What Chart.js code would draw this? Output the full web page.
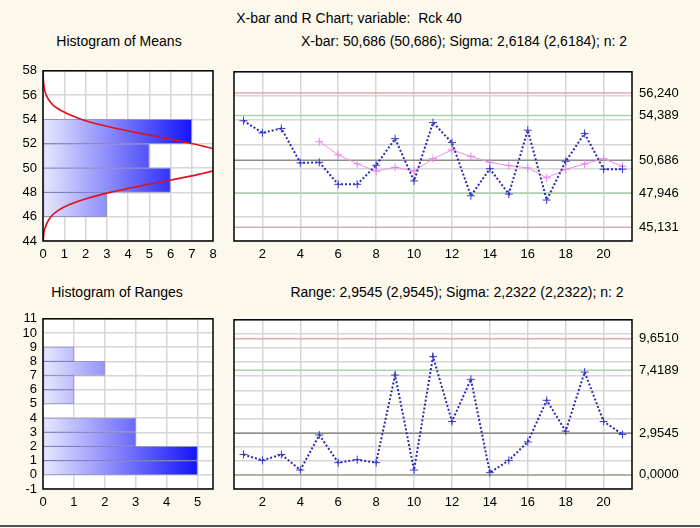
<!doctype html>
<html lang="en">
<head>
<meta charset="utf-8">
<title>X-bar and R Chart</title>
<script src="https://cdn.jsdelivr.net/npm/chart.js@4.4.0/dist/chart.umd.min.js"></script>
<style>
  body { margin: 0; background: #fdf8ec; font-family: 'Liberation Sans', Arial, sans-serif; }
  #page { position: relative; width: 700px; height: 528px; overflow: hidden; }
  .t { position: absolute; font-size: 14px; line-height: 16px; white-space: nowrap; transform: translateX(-50%); color: #000; }
  .box { position: absolute; }
  #rule { position: absolute; left: 0; top: 525px; width: 700px; height: 2px; background: #505050; }
</style>
</head>
<body>
<div id="page">
  <div class="t" style="left:349px;top:10px">X-bar and R Chart; variable:&nbsp; Rck 40</div>
  <div class="t" style="left:119px;top:33px">Histogram of Means</div>
  <div class="t" style="left:464px;top:33px">X-bar: 50,686 (50,686); Sigma: 2,6184 (2,6184); n: 2</div>
  <div class="t" style="left:117px;top:284px">Histogram of Ranges</div>
  <div class="t" style="left:457px;top:284px">Range: 2,9545 (2,9545); Sigma: 2,2322 (2,2322); n: 2</div>

  <div class="box" style="left:0;top:57px"><canvas id="histMeans" width="225" height="213"></canvas></div>
  <div class="box" style="left:225px;top:57px"><canvas id="xbar" width="475" height="213"></canvas></div>
  <div class="box" style="left:0;top:305px"><canvas id="histRanges" width="225" height="213"></canvas></div>
  <div class="box" style="left:225px;top:305px"><canvas id="rchart" width="475" height="213"></canvas></div>
  <div id="rule"></div>
</div>

<script>
// datos
var sampleNo = [1, 2, 3, 4, 5, 6, 7, 8, 9, 10, 11, 12, 13, 14, 15, 16, 17, 18, 19, 20, 21];
var sampleTicks = [2, 4, 6, 8, 10, 12, 14, 16, 18, 20];

var xbarValues = [53.95, 52.95, 53.31, 50.46, 50.51, 48.69, 48.69, 50.27, 52.47, 48.97, 53.80,
                  52.14, 47.74, 49.98, 47.88, 53.17, 47.39, 50.59, 52.90, 49.94, 49.94];
var xbarMovingAvg = [null, null, null, null, 52.22, 51.13, 50.38, 49.78, 50.10, 49.78, 50.81,
                     51.54, 51.00, 50.51, 50.24, 50.05, 49.23, 49.92, 50.38, 50.81, 50.18];
var xbarLimitValues = [56.240, 54.389, 50.686, 47.946, 45.131];
var xbarLimitLabels = ['56,240', '54,389', '50,686', '47,946', '45,131'];
var xbarLimitColors = ['#e6a8ae', '#a9d6a9', '#8c8c8c', '#a9d6a9', '#e6a8ae'];

var rangeValues = [1.45, 1.03, 1.45, 0.34, 2.83, 0.87, 1.08, 0.87, 7.08, 0.34, 8.39,
                   3.79, 6.78, 0.16, 1.03, 2.34, 5.29, 3.10, 7.29, 3.79, 2.87];
var rangeLimitValues = [9.6510, 7.4189, 2.9545, 0];
var rangeLimitLabels = ['9,6510', '7,4189', '2,9545', '0,0000'];
var rangeLimitColors = ['#e6a8ae', '#a9d6a9', '#8c8c8c', '#a0a088'];

var meanBinCenters = [47, 49, 51, 53];
var meanBinCounts = [3, 6, 5, 7];
var meanCurveLevels = [44, 45, 46, 46.5, 47, 47.5, 48, 48.5, 49, 49.5, 50, 50.7, 51.3, 52, 52.5, 53, 53.5, 54, 55, 56, 57, 58];
var meanCurveCounts = [0.01, 0.08, 0.37, 0.70, 1.25, 2.06, 3.16, 4.51, 5.98, 7.37, 8.45, 9.05, 8.56, 7.03, 5.60, 4.14, 2.85, 1.82, 0.60, 0.15, 0.03, 0.0];

var rangeBinCenters = [0.5, 1.5, 2.5, 3.5, 4.5, 5.5, 6.5, 7.5, 8.5];
var rangeBinCounts = [5, 5, 3, 3, 0, 1, 1, 2, 1];

Chart.defaults.font.family = "'Liberation Sans', Arial, sans-serif";
Chart.defaults.font.size = 13;
Chart.defaults.color = '#000';

var gridColor = '#d6d6d6';

// fondo blanco y marco negro del area de trazado
var framePlugin = {
    id: 'frame',
    beforeDraw: function (chart) {
        var a = chart.chartArea, c = chart.ctx;
        c.save();
        c.fillStyle = '#fff';
        c.fillRect(a.left, a.top, a.width, a.height);
        c.restore();
    },
    afterDraw: function (chart) {
        var a = chart.chartArea, c = chart.ctx;
        c.save();
        c.strokeStyle = '#000';
        c.lineWidth = 1.5;
        c.strokeRect(a.left, a.top, a.width, a.height);
        c.restore();
    }
};

function barGradient(context, maxCount) {
    var chart = context.chart;
    if (!chart.chartArea) return '#8080f0';
    var x0 = chart.scales.x.getPixelForValue(0);
    var x1 = chart.scales.x.getPixelForValue(maxCount);
    var g = chart.ctx.createLinearGradient(x0, 0, x1, 0);
    g.addColorStop(0, '#e8e8fc');
    g.addColorStop(1, '#1414fa');
    return g;
}

function histChart(id, centers, counts, yMin, yMax, yStep, xMax, xTicks, curve) {
    var maxCount = Math.max.apply(null, counts);
    var datasets = [{
        type: 'bar',
        data: centers.map(function (c, i) { return { x: counts[i], y: c }; }),
        backgroundColor: function (ctx) { return barGradient(ctx, maxCount); },
        borderColor: 'rgba(80, 80, 190, 0.5)',
        borderWidth: 1,
        borderSkipped: false,
        barPercentage: 1,
        categoryPercentage: 1
    }];
    if (curve) {
        datasets.unshift({
            type: 'line',
            data: curve.levels.map(function (l, i) { return { x: curve.counts[i], y: l }; }),
            borderColor: '#e0101c',
            borderWidth: 1.6,
            pointRadius: 0,
            cubicInterpolationMode: 'monotone'
        });
    }
    return new Chart(document.getElementById(id), {
        type: 'bar',
        data: { datasets: datasets },
        options: {
            responsive: false,
            animation: false,
            indexAxis: 'y',
            layout: { padding: { top: 10, right: 12, left: 0, bottom: 0 } },
            plugins: { legend: { display: false }, tooltip: { enabled: false } },
            scales: {
                x: {
                    type: 'linear', min: 0, max: xMax,
                    afterBuildTicks: function (axis) { axis.ticks = xTicks.map(function (v) { return { value: v }; }); },
                    afterFit: function (s) { s.height = 29; },
                    grid: { color: gridColor, lineWidth: 1.5, drawTicks: false },
                    border: { display: false },
                    ticks: { padding: 6 }
                },
                y: {
                    type: 'linear', min: yMin, max: yMax, offset: false,
                    afterFit: function (s) { s.width = 43; },
                    grid: { color: gridColor, lineWidth: 1.5, drawTicks: false, offset: false },
                    border: { display: false },
                    ticks: { stepSize: yStep, padding: 6, autoSkip: false }
                }
            }
        },
        plugins: [framePlugin]
    });
}

function controlChart(id, values, extra, limits, limitLabels, limitColors, yMin, yMax, yStep) {
    var xMin = 0.5, xMax = 21.5;
    var datasets = [{
        data: sampleNo.map(function (n, i) { return { x: n, y: values[i] }; }),
        borderColor: '#2a2ab0',
        borderWidth: 2,
        borderDash: [2, 2],
        pointStyle: 'cross',
        pointRadius: 4,
        pointBorderColor: '#3a3acc',
        pointBorderWidth: 1
    }];
    if (extra) {
        datasets.push({
            data: sampleNo.map(function (n, i) { return { x: n, y: extra[i] }; }).filter(function (p) { return p.y !== null; }),
            borderColor: '#ec90ec',
            borderWidth: 1,
            pointStyle: 'cross',
            pointRadius: 4,
            pointBorderColor: '#ec80ec',
            pointBorderWidth: 1
        });
    }
    limits.forEach(function (v, i) {
        datasets.push({
            data: [{ x: xMin, y: v }, { x: xMax, y: v }],
            borderColor: limitColors[i],
            borderWidth: 1.5,
            pointRadius: 0
        });
    });
    return new Chart(document.getElementById(id), {
        type: 'line',
        data: { datasets: datasets },
        options: {
            responsive: false,
            animation: false,
            layout: { padding: { top: 10, right: 0, left: 0, bottom: 0 } },
            plugins: { legend: { display: false }, tooltip: { enabled: false } },
            scales: {
                x: {
                    type: 'linear', min: xMin, max: xMax,
                    afterBuildTicks: function (axis) { axis.ticks = sampleTicks.map(function (v) { return { value: v }; }); },
                    afterFit: function (s) { s.height = 29; },
                    grid: { color: gridColor, lineWidth: 1.5, drawTicks: false },
                    border: { display: false },
                    ticks: { padding: 6 }
                },
                y: {
                    type: 'linear', position: 'left', min: yMin, max: yMax,
                    afterFit: function (s) { s.width = 9; },
                    grid: { color: gridColor, lineWidth: 1.5, drawTicks: false },
                    border: { display: false },
                    ticks: { display: false, stepSize: yStep }
                },
                y2: {
                    type: 'linear', position: 'right', min: yMin, max: yMax,
                    afterBuildTicks: function (axis) { axis.ticks = limits.map(function (v) { return { value: v }; }); },
                    afterFit: function (s) { s.width = 68; },
                    grid: { drawOnChartArea: false, drawTicks: false },
                    border: { display: false },
                    ticks: {
                        padding: 7, autoSkip: false,
                        callback: function (v, i) { return limitLabels[i]; }
                    }
                }
            }
        },
        plugins: [framePlugin]
    });
}

histChart('histMeans', meanBinCenters, meanBinCounts, 44, 58, 2, 8, [0, 1, 2, 3, 4, 5, 6, 7, 8],
          { levels: meanCurveLevels, counts: meanCurveCounts });
controlChart('xbar', xbarValues, xbarMovingAvg, xbarLimitValues, xbarLimitLabels, xbarLimitColors, 44, 58, 2);
histChart('histRanges', rangeBinCenters, rangeBinCounts, -1, 11, 1, 5.5, [0, 1, 2, 3, 4, 5], null);
controlChart('rchart', rangeValues, null, rangeLimitValues, rangeLimitLabels, rangeLimitColors, -1, 11, 1);
</script>
</body>
</html>
